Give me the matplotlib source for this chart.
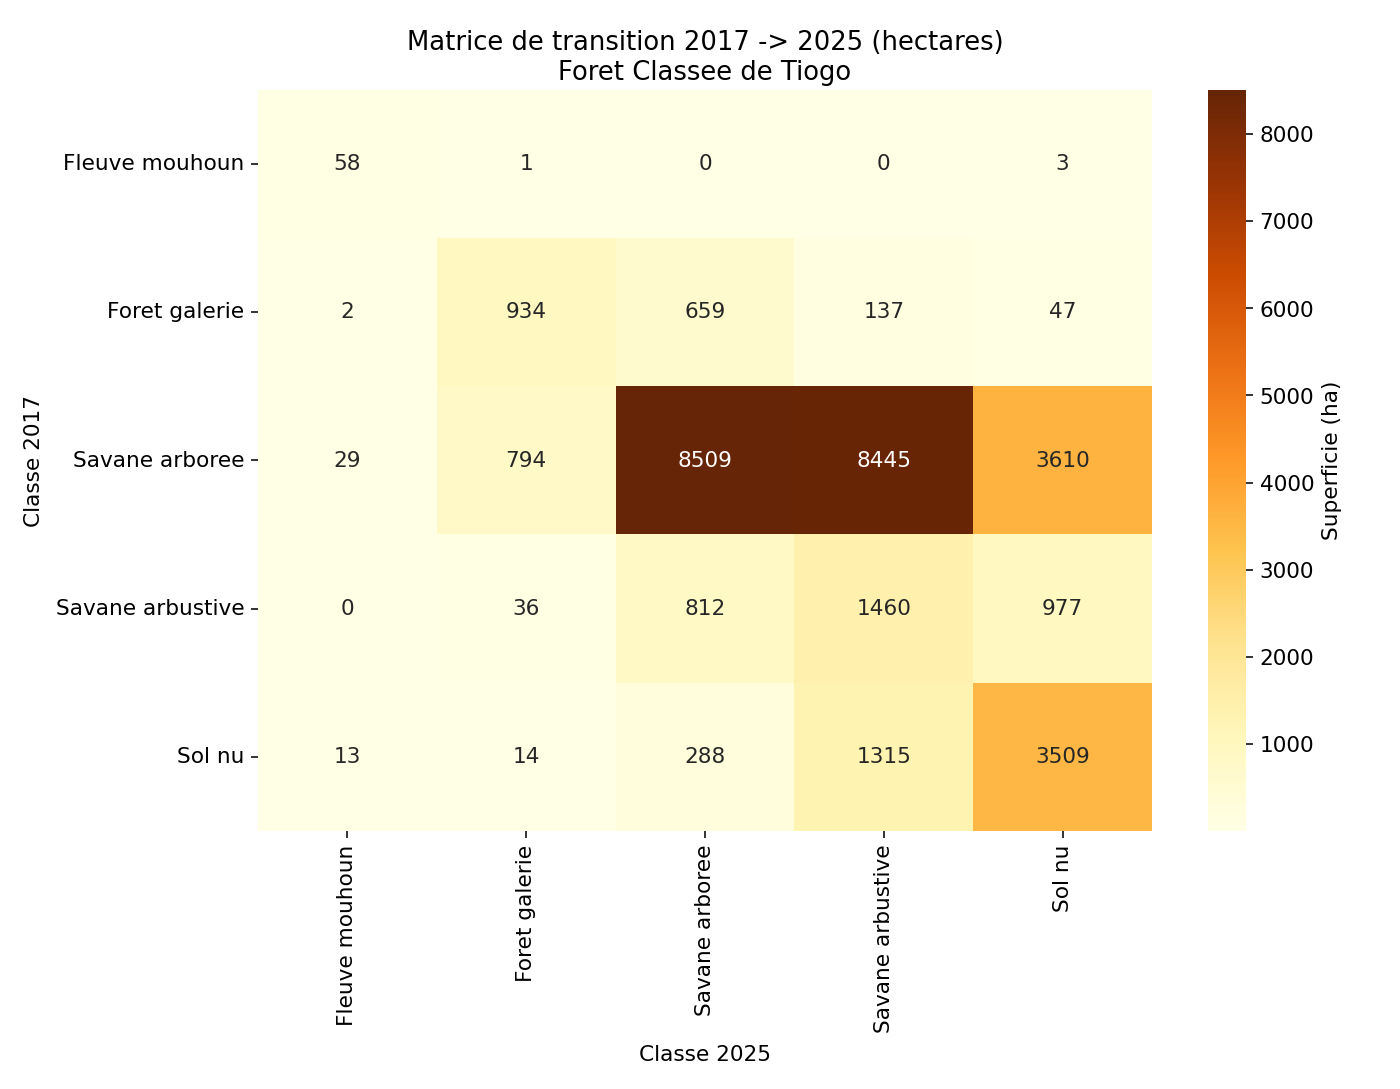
import matplotlib
matplotlib.use("Agg")
import matplotlib.pyplot as plt
import seaborn as sns
import numpy as np
import pandas as pd

classes = ["Fleuve mouhoun", "Foret galerie", "Savane arboree", "Savane arbustive", "Sol nu"]
row_fleuve = [58, 1, 0, 0, 3]
row_foret = [2, 934, 659, 137, 47]
row_sav_arboree = [29, 794, 8509, 8445, 3610]
row_sav_arbustive = [0, 36, 812, 1460, 977]
row_sol_nu = [13, 14, 288, 1315, 3509]
cbar_ticks = [1000, 2000, 3000, 4000, 5000, 6000, 7000, 8000]

df = pd.DataFrame([row_fleuve, row_foret, row_sav_arboree, row_sav_arbustive, row_sol_nu],
                  index=classes, columns=classes)

fs = 11.1
fig = plt.figure(figsize=(10, 7.78), dpi=140)
ax = fig.add_axes([258/1400, 1 - 831/1089, (1152-258)/1400, (831-90)/1089])
cax = fig.add_axes([1208/1400, 1 - 831/1089, (1246-1208)/1400, (831-90)/1089])
sns.heatmap(df, annot=True, fmt="d", cmap="YlOrBr", ax=ax, cbar_ax=cax,
            cbar_kws={"label": "Superficie (ha)", "ticks": cbar_ticks},
            annot_kws={"fontsize": fs})
ax.set_title("Matrice de transition 2017 -> 2025 (hectares)\nForet Classee de Tiogo",
             fontsize=13.3, pad=5)
ax.set_xlabel("Classe 2025", fontsize=fs, labelpad=6)
ax.set_ylabel("Classe 2017", fontsize=fs, labelpad=6)
ax.tick_params(axis="x", rotation=90, labelsize=fs)
ax.tick_params(axis="y", rotation=0, labelsize=fs)
cax.tick_params(labelsize=fs)
cax.yaxis.label.set_size(fs)
fig.savefig("out.png", dpi=140)
